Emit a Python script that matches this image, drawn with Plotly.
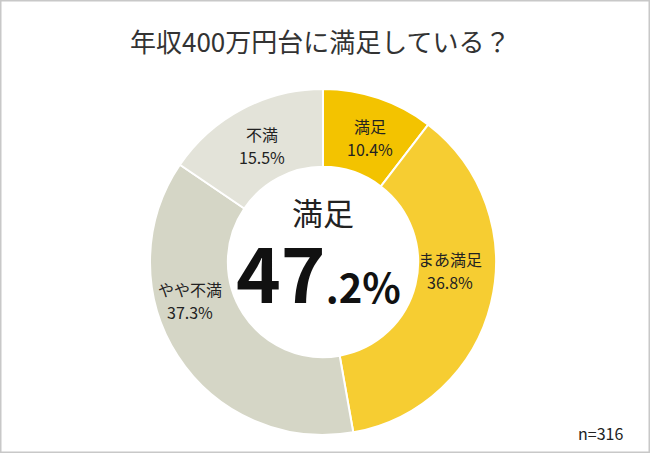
import plotly.graph_objects as go

labels = ["満足", "まあ満足", "やや不満", "不満"]
values = [10.4, 36.8, 37.3, 15.5]
colors = ["#F3C300", "#F6CD32", "#D5D6C6", "#E3E3D9"]
title = "年収400万円台に満足している？"
n_text = "n=316"
# label anchor positions (pixels) for slice texts
label_pos = [(370, 137), (450, 270), (190, 300), (262, 145)]

W, H = 650, 453
FONT = "Noto Sans CJK JP"


def px(x, y):
    return x / W, (H - y) / H


fig = go.Figure()
fig.add_trace(go.Pie(
    labels=labels, values=values, sort=False, direction="clockwise",
    rotation=0, hole=0.55,
    marker=dict(colors=colors, line=dict(color="white", width=2)),
    textinfo="none", hoverinfo="label+percent", showlegend=False,
    domain=dict(x=[(323 - 173) / W, (323 + 173) / W], y=[(H - 435) / H, (H - 89) / H]),
))

ann = []


def add_text(x, y, text, size, color="#222222", xanchor="center"):
    ax, ay = px(x, y)
    ann.append(dict(x=ax, y=ay, xref="paper", yref="paper", showarrow=False,
                    xanchor=xanchor, yanchor="middle", text=text,
                    font=dict(family=FONT, size=size, color=color)))


for lab, v, (x, y) in zip(labels, values, label_pos):
    add_text(x, y - 11, lab, 16)
    add_text(x, y + 12, f"{v:.1f}%", 16)

sat = values[0] + values[1]
whole, frac = f"{sat:.1f}".split(".")
add_text(323, 212, labels[0], 31)
add_text(318, 270, f"<b>{whole}<span style='font-size:40px'>.{frac}%</span></b>", 76, "#111111")
add_text(320, 40, title, 26, "#333333")
add_text(600, 433, n_text, 16)

fig.update_layout(
    width=W, height=H, margin=dict(l=0, r=0, t=0, b=0),
    paper_bgcolor="white", plot_bgcolor="white",
    annotations=ann,
    shapes=[dict(type="rect", xref="paper", yref="paper", x0=0, y0=0, x1=1, y1=1,
                 line=dict(color="#C8C8C8", width=3))],
)
fig.write_html("out.html", config={"displayModeBar": False},
               post_script="document.body.style.margin='0';document.body.style.overflow='hidden';")
